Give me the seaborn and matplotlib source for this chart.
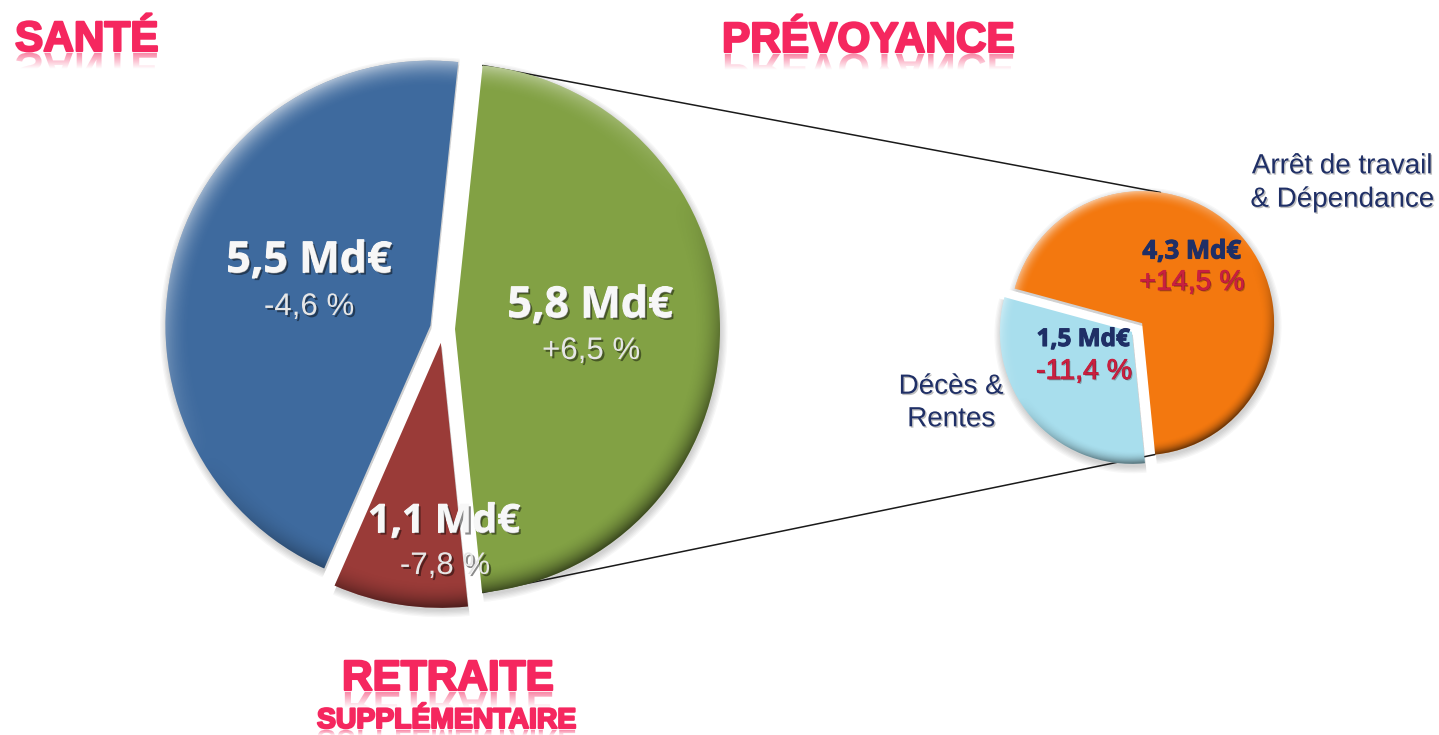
import numpy as np
import seaborn as sns
import matplotlib
matplotlib.use("Agg")
import matplotlib.pyplot as plt
import matplotlib.patheffects as pe
from matplotlib.font_manager import FontProperties
from matplotlib.patches import PathPatch, Wedge
from matplotlib.textpath import TextPath
from matplotlib.transforms import Affine2D

# Main pie, clockwise from the top: slice shares (%) as they are drawn in the picture
main_names = ["Prévoyance", "Retraite supplémentaire", "Santé"]
main_shares = [46.7, 8.2, 45.1]
main_labels = ["5,8 Md€", "1,1 Md€", "5,5 Md€"]
main_changes = ["+6,5 %", "-7,8 %", "-4,6 %"]

# Breakdown of Prévoyance, same idea
detail_names = ["Arrêt de travail\n& Dépendance", "Décès &\nRentes"]
detail_shares = [69.2, 30.8]
detail_labels = ["4,3 Md€", "1,5 Md€"]
detail_changes = ["+14,5 %", "-11,4 %"]

W, H = 1439, 735
PINK = "#F5275F"
NAVY = "#1F2F66"

sns.set_theme(style="white")
main_colors = sns.color_palette(["#82A144", "#9A3B38", "#3E6A9E"])
detail_colors = sns.color_palette(["#F3780F", "#A8DEED"])


def Y(py):
    return H - py


fig = plt.figure(figsize=(W / 100, H / 100), dpi=100, facecolor="white")
ax = fig.add_axes([0, 0, 1, 1])

# explode is in data units here, so these are pixels
no_edge = {"linewidth": 0, "edgecolor": "none"}
main_wedges, _ = ax.pie(main_shares, colors=main_colors, center=(443, Y(329)), radius=265,
                        startangle=84, counterclock=False, explode=[12, 14, 13], wedgeprops=no_edge)
detail_wedges, _ = ax.pie(detail_shares, colors=detail_colors, center=(1137, Y(327.5)), radius=132,
                          startangle=164.8, counterclock=False, explode=[6.7, 6.7], wedgeprops=no_edge)


def edge_point(w, angle):
    a = np.deg2rad(angle)
    return w.center[0] + w.r * np.cos(a), w.center[1] + w.r * np.sin(a)


def shade(w):
    # soft shadow under the slice
    for k in range(6):
        ax.add_patch(Wedge((w.center[0] + 1, w.center[1] - 3), w.r + k * 1.3, w.theta1, w.theta2,
                           fc="black", ec="none", alpha=0.03, zorder=0.5))
    w.set_zorder(2)
    # bevel along the rim, lit from the top left
    n = int(2 * w.r)
    xs = np.linspace(-1, 1, n)
    dx, dy = np.meshgrid(xs, xs)
    t = np.hypot(dx, dy)
    rim = ((t - 0.9) / 0.1).clip(0, 1) ** 2
    lit = -0.5 * dx + 0.86 * dy
    rgba = np.zeros((n, n, 4))
    rgba[..., :3] = (lit > 0)[..., None]
    rgba[..., 3] = rim * np.abs(lit) * 0.55
    cx, cy = w.center
    im = ax.imshow(rgba, extent=(cx - w.r, cx + w.r, cy - w.r, cy + w.r), origin="lower",
                   interpolation="bilinear", aspect="auto", zorder=2.5)
    im.set_clip_path(w)


for w in main_wedges + detail_wedges:
    shade(w)

# connector lines from the green slice to the small pie
green, orange = main_wedges[0], detail_wedges[0]
for a_main, a_detail in [(84, 82), (-84, -84.4)]:
    p0, p1 = edge_point(green, a_main), edge_point(orange, a_detail)
    ax.plot([p0[0], p1[0]], [p0[1], p1[1]], color="#1a1a1a", lw=1.1, zorder=1)


def title(s, x, base, size, reflect=16):
    px = size * 100 / 72
    fp = FontProperties(family="Liberation Sans", weight="bold")
    # fading mirror image below the word
    tp = TextPath((x, Y(base)), s, size=px, prop=fp)
    mirror = Affine2D().scale(1, -1).translate(0, 2 * Y(base) - 2)
    patch = PathPatch(tp, transform=mirror + ax.transData, fc="none", ec="none")
    ax.add_patch(patch)
    fade = np.ones((32, 2, 4))
    fade[..., :3] = matplotlib.colors.to_rgb(PINK)
    fade[..., 3] = np.linspace(0, 0.55, 32)[:, None]
    width = tp.get_extents().width + 4
    im = ax.imshow(fade, extent=(x - 2, x + width, Y(base) - reflect - 2, Y(base) - 2), origin="lower",
                   aspect="auto", interpolation="bilinear", zorder=3)
    im.set_clip_path(patch)
    ax.text(x, Y(base), s, fontsize=size, color=PINK, family="Liberation Sans",
            weight="bold", ha="left", va="baseline", zorder=4,
            path_effects=[pe.withStroke(linewidth=1.6, foreground=PINK)])


title("SANTÉ", 15, 51, 30.5)
title("PRÉVOYANCE", 722, 52, 30.5)
title("RETRAITE", 342, 690, 30.5)
title("SUPPLÉMENTAIRE", 317, 728, 20.4, reflect=6)

shadow = [pe.withStroke(linewidth=0.8, foreground="#F7F7F7"),
          pe.withSimplePatchShadow(offset=(1.5, -1.5), shadow_rgbFace="black", alpha=0.45)]
shadow_thin = [pe.withSimplePatchShadow(offset=(1.5, -1.5), shadow_rgbFace="black", alpha=0.45)]
label_pos = [(590, 302), (444, 518), (309, 257)]
change_pos = [(591, 351), (445, 566), (309, 307)]
for s, c, lp, cp, fs in zip(main_labels, main_changes, label_pos, change_pos, [31, 28.5, 31]):
    ax.text(lp[0], Y(lp[1] + 4), s, fontsize=fs, color="#F7F7F7", family="Open Sans", weight="bold",
            ha="center", va="center", zorder=5, path_effects=shadow)
    ax.text(cp[0], Y(cp[1]), c, fontsize=22.5, color="#E6E6E6", family="Liberation Sans",
            ha="center", va="center", zorder=5, path_effects=shadow_thin)

soft = [pe.withSimplePatchShadow(offset=(1, -1), shadow_rgbFace="black", alpha=0.25)]
for s, c, lp, cp, fs in zip(detail_labels, detail_changes, [(1192, 251), (1083, 340)],
                            [(1192, 283), (1084, 372)], [18.5, 17.5]):
    ax.text(lp[0], Y(lp[1]), s, fontsize=fs, color=NAVY, family="Open Sans", weight="bold",
            ha="center", va="center", zorder=5,
            path_effects=[pe.withStroke(linewidth=0.8, foreground=NAVY)])
    ax.text(cp[0], Y(cp[1]), c, fontsize=20.5, color="#C8203F", family="Liberation Sans",
            ha="center", va="center", zorder=5,
            path_effects=[pe.withStroke(linewidth=0.7, foreground="#C8203F")] + soft)

for s, pos, sp in zip(detail_names, [(1342, 183), (951, 403)], [1.37, 1.33]):
    ax.text(pos[0], Y(pos[1]), s, fontsize=20, color=NAVY, family="Liberation Sans",
            ha="center", va="center", linespacing=sp, zorder=5, path_effects=soft)

ax.set_xlim(0, W)
ax.set_ylim(0, H)
ax.set_aspect("auto")
ax.axis("off")
fig.savefig("out.png", dpi=100, facecolor="white")
